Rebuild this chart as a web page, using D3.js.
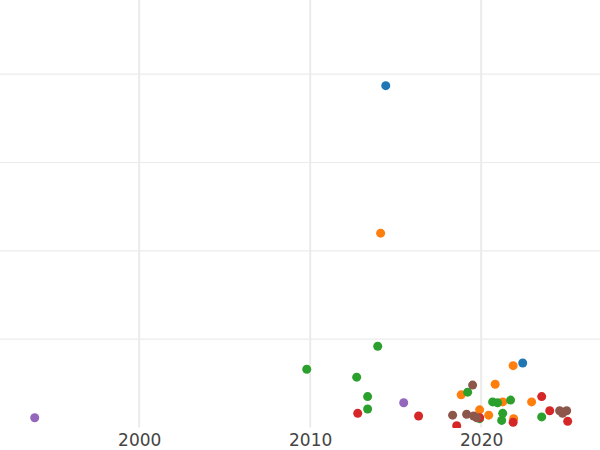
<!DOCTYPE html>
<html>
<head>
<meta charset="utf-8">
<script src="https://cdn.jsdelivr.net/npm/d3@7"></script>
<style>body{margin:0;background:#fff}</style>
</head>
<body>
<div id="chart"></div>
<script>
const width = 600, height = 450;

// series: [year, value]
const blue   = [[2014.42, 3.87], [2022.43, 0.73]];
const orange = [[2014.12, 2.20], [2018.83, 0.37], [2020.82, 0.49], [2021.87, 0.70], [2019.91, 0.20],
                [2020.44, 0.14], [2021.26, 0.29], [2021.90, 0.10], [2022.95, 0.29]];
const green  = [[2009.80, 0.66], [2012.72, 0.57], [2013.95, 0.92], [2013.36, 0.35], [2013.36, 0.21],
                [2019.21, 0.40], [2020.67, 0.29], [2020.96, 0.28], [2021.72, 0.31], [2021.26, 0.16],
                [2019.91, 0.10], [2021.20, 0.08], [2023.54, 0.12]];
const red    = [[2012.78, 0.16], [2016.34, 0.13], [2018.57, 0.02], [2019.91, 0.11], [2021.87, 0.06],
                [2023.54, 0.35], [2024.01, 0.19], [2025.06, 0.07]];
const purple = [[1993.89, 0.11], [2015.47, 0.28]];
const brown  = [[2019.50, 0.48], [2018.33, 0.14], [2019.15, 0.15], [2019.56, 0.13], [2019.74, 0.11],
                [2024.59, 0.19], [2025.00, 0.19], [2024.76, 0.16]];

const series = [
    { pts: blue, color: "#1f77b4" },
    { pts: orange, color: "#ff7f0e" },
    { pts: green, color: "#2ca02c" },
    { pts: red, color: "#d62728" },
    { pts: purple, color: "#9467bd" },
    { pts: brown, color: "#8c564b" }
];
const xTicks = [2000, 2010, 2020];
const yTicks = [1, 2, 3, 4];

const svg = d3.select("#chart").append("svg")
    .attr("width", width).attr("height", height);

const x = d3.scaleLinear().domain([1991.86, 2026.95]).range([0, width]);
const y = d3.scaleLinear().domain([0, 4.84]).range([427.5, 0]);

// gridlines
svg.append("g").selectAll("line").data(yTicks).join("line")
    .attr("x1", 0).attr("x2", width)
    .attr("y1", d => y(d)).attr("y2", d => y(d))
    .attr("stroke", "#ebebeb").attr("stroke-width", 1.2);
svg.append("g").selectAll("line").data(xTicks).join("line")
    .attr("x1", d => x(d)).attr("x2", d => x(d))
    .attr("y1", 0).attr("y2", 427.5)
    .attr("stroke", "#ebebeb").attr("stroke-width", 2);

// clip points to plot area
svg.append("clipPath").attr("id", "clip")
    .append("rect").attr("x", 0).attr("y", 0).attr("width", width).attr("height", 428);

const pts = svg.append("g").attr("clip-path", "url(#clip)");
series.forEach(s => {
    pts.selectAll(null).data(s.pts).join("circle")
        .attr("cx", d => x(d[0])).attr("cy", d => y(d[1]))
        .attr("r", 4.5).attr("fill", s.color);
});

// x axis labels
const xAxis = svg.append("g")
    .attr("transform", `translate(0,${427.5})`)
    .call(d3.axisBottom(x).tickValues(xTicks).tickFormat(d3.format("d")).tickSize(0).tickPadding(6));
xAxis.select(".domain").remove();
xAxis.selectAll("text")
    .attr("font-family", "DejaVu Sans").attr("font-size", 17).attr("fill", "#444");
</script>
</body>
</html>
